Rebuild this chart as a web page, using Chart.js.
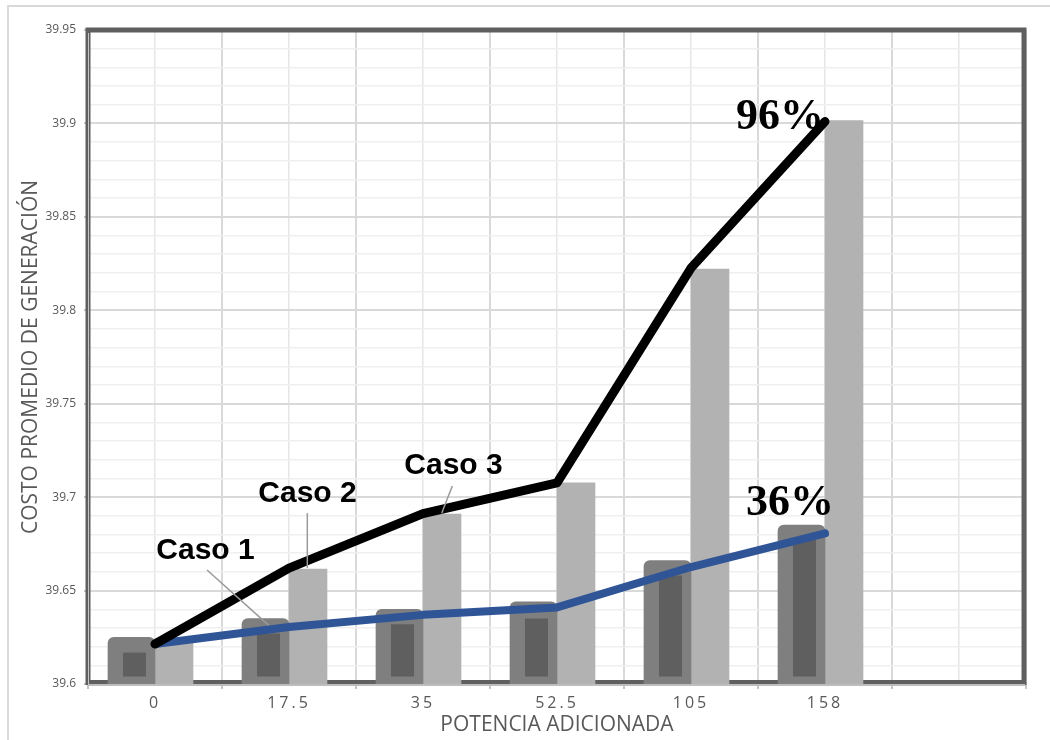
<!DOCTYPE html>
<html>
<head>
<meta charset="utf-8">
<script src="https://cdn.jsdelivr.net/npm/chart.js@4.4.1/dist/chart.umd.min.js"></script>
<style>
  html, body { margin: 0; padding: 0; background: #ffffff; }
  #wrap { position: relative; width: 1050px; height: 740px; }
</style>
</head>
<body>
<div id="wrap"><canvas id="c" width="1050" height="740"></canvas></div>
<script>
// ---- data ----
const categories = ['0', '17.5', '35', '52.5', '105', '158', ''];
const darkBars  = [39.625, 39.635, 39.640, 39.644, 39.666, 39.685, null];
const innerTops = [39.6168, 39.627, 39.632, 39.635, 39.658, 39.677, null];
const innerBase = 39.604;
const lightBars = [39.6235, 39.6615, 39.691, 39.7076, 39.822, 39.9015, null];
const blueLine  = [39.6214, 39.6305, 39.637, 39.641, 39.6626, 39.6806, null];
const blackLine = [39.6214, 39.662, 39.6912, 39.7076, 39.8226, 39.901, null];
const yMin = 39.6, yMax = 39.95, yStep = 0.01, yMajor = 0.05;
const yTitle = 'COSTO PROMEDIO DE GENERACIÓN';
const xTitle = 'POTENCIA ADICIONADA';
const annotations = [
  { text: 'Caso 1', ds: 2, idx: 1, font: 'bold 30px "Liberation Sans", Arial, sans-serif', dx: -60, dy: -60, leader: [-58.5, -48.6, 3, 6.5] },
  { text: 'Caso 2', ds: 3, idx: 1, font: 'bold 30px "Liberation Sans", Arial, sans-serif', dx: -0.5, dy: -67, leader: [-0.7, -56, -0.7, -1] },
  { text: 'Caso 3', ds: 3, idx: 2, font: 'bold 30px "Liberation Sans", Arial, sans-serif', dx: 11.5, dy: -40, leader: [10.3, -28, -0.3, -0.7] },
  { text: '96%', ds: 0, idx: 5, font: 'bold 44px "Liberation Serif", "Times New Roman", serif', dx: -45, dy: 7 },
  { text: '36%', ds: 1, idx: 5, font: 'bold 44px "Liberation Serif", "Times New Roman", serif', dx: -35, dy: -18 }
];

const isMajor = v => Math.abs(v / yMajor - Math.round(v / yMajor)) < 1e-6;
const innerBars = innerTops.map(v => v == null ? null : [innerBase, v]);

const pagePlugin = {
  id: 'page',
  beforeDraw(chart) {
    const ctx = chart.ctx;
    ctx.save();
    ctx.fillStyle = '#ffffff';
    ctx.fillRect(0, 0, chart.width, chart.height);
    ctx.strokeStyle = '#d9d9d9';
    ctx.lineWidth = 2;
    ctx.strokeRect(8, 6, chart.width + 20, chart.height + 20);
    ctx.restore();
    const s = chart.scales.x;
    if (s && !s._spaced) {
      const orig = s.drawLabels;
      s.drawLabels = function (area) {
        const c = this.ctx;
        c.save();
        c.letterSpacing = '3px';
        orig.call(this, area);
        c.restore();
      };
      s._spaced = true;
    }
  },
  beforeDatasetsDraw(chart) {
    const { ctx, chartArea: a } = chart;
    ctx.save();
    ctx.strokeStyle = '#5f5f5f';
    ctx.lineWidth = 5;
    ctx.strokeRect(a.left, a.top, (a.right - 2) - a.left, (a.bottom - 1.5) - a.top);
    ctx.strokeStyle = '#c4c4c4';
    ctx.lineWidth = 1;
    ctx.beginPath();
    ctx.moveTo(a.left + 0.5, a.top + 3);
    ctx.lineTo(a.left + 0.5, a.bottom);
    ctx.stroke();
    ctx.restore();
  },
  afterDatasetsDraw(chart) {
    const { ctx, chartArea: a } = chart;
    ctx.save();
    ctx.strokeStyle = '#bdbdbd';
    ctx.lineWidth = 2;
    ctx.beginPath();
    ctx.moveTo(a.left, a.bottom + 1);
    ctx.lineTo(a.right - 1, a.bottom + 1);
    ctx.stroke();
    // annotations anchored to data elements
    annotations.forEach(an => {
      const el = chart.getDatasetMeta(an.ds).data[an.idx];
      if (!el) return;
      const x = el.x, y = el.y;
      if (an.leader) {
        ctx.strokeStyle = '#9a9a9a';
        ctx.lineWidth = 1.5;
        ctx.beginPath();
        ctx.moveTo(x + an.leader[0], y + an.leader[1]);
        ctx.lineTo(x + an.leader[2], y + an.leader[3]);
        ctx.stroke();
      }
      ctx.font = an.font;
      ctx.fillStyle = '#000000';
      ctx.textAlign = 'center';
      ctx.textBaseline = 'alphabetic';
      ctx.fillText(an.text, x + an.dx, y + an.dy);
    });
    ctx.restore();
  }
};

new Chart(document.getElementById('c'), {
  data: {
    labels: categories,
    datasets: [
      { type: 'line', label: 'Caso 3 línea', data: blackLine, borderColor: '#000000', borderWidth: 9,
        pointRadius: 0, borderCapStyle: 'round', borderJoinStyle: 'round', fill: false, order: 0, spanGaps: false },
      { type: 'line', label: 'Caso 1 línea', data: blueLine, borderColor: '#2f5597', borderWidth: 8,
        pointRadius: 0, borderCapStyle: 'round', borderJoinStyle: 'round', fill: false, order: 0, spanGaps: false },
      { type: 'bar', label: 'Caso 1', data: darkBars, backgroundColor: '#7f7f7f', stack: 'a',
        barThickness: 47, borderRadius: { topLeft: 6, topRight: 6, bottomLeft: 0, bottomRight: 0 },
        borderSkipped: 'start', order: 2 },
      { type: 'bar', label: 'Caso 3', data: lightBars, backgroundColor: '#b2b2b2', stack: 'b',
        barThickness: 38, order: 2 },
      { type: 'bar', label: 'Caso 2', data: innerBars, backgroundColor: '#5f5f5f', stack: 'a',
        categoryPercentage: 0.612, barPercentage: 0.561, order: 1 }
    ]
  },
  options: {
    responsive: false,
    animation: false,
    devicePixelRatio: 1,
    layout: { padding: { left: 0, top: 30, right: 24, bottom: 0 } },
    plugins: { legend: { display: false }, tooltip: { enabled: false } },
    scales: {
      x: {
        type: 'category',
        offset: true,
        afterFit: s => { s.height = 56; },
        grid: { offset: true, color: '#d9d9d9', lineWidth: 2, tickColor: '#c4c4c4', tickLength: 5, tickWidth: 2 },
        border: { display: false },
        ticks: { color: '#595959', font: { family: '"Open Sans", sans-serif', size: 16 }, padding: 5, maxRotation: 0, autoSkip: false },
        title: { display: true, text: xTitle, color: '#595959', font: { family: '"Open Sans", sans-serif', size: 21 }, padding: { top: 0, bottom: 2 } }
      },
      x2: {
        type: 'category',
        position: 'top',
        offset: true,
        afterFit: s => { s.height = 0; },
        grid: { offset: false, color: '#e6e6e6', lineWidth: 1.5, drawTicks: false },
        border: { display: false },
        ticks: { display: false }
      },
      y: {
        type: 'linear',
        min: yMin, max: yMax,
        stacked: false,
        beginAtZero: false,
        afterFit: s => { s.width = 88; },
        grid: {
          color: c => isMajor(c.tick.value) ? '#d9d9d9' : '#efefef',
          lineWidth: c => isMajor(c.tick.value) ? 2 : 1.5,
          tickColor: c => isMajor(c.tick.value) ? '#c4c4c4' : 'rgba(0,0,0,0)',
          tickLength: 4
        },
        border: { display: false },
        ticks: {
          stepSize: yStep, maxTicksLimit: 100, autoSkip: false, padding: 8,
          color: '#595959', font: { family: '"Open Sans", sans-serif', size: 12 },
          callback: v => isMajor(v) ? String(Math.round(v * 100) / 100) : ''
        },
        title: { display: true, text: yTitle, color: '#595959', font: { family: '"Open Sans", sans-serif', size: 21 }, padding: { top: 18, bottom: 0 } }
      }
    }
  },
  plugins: [pagePlugin]
});
</script>
</body>
</html>
